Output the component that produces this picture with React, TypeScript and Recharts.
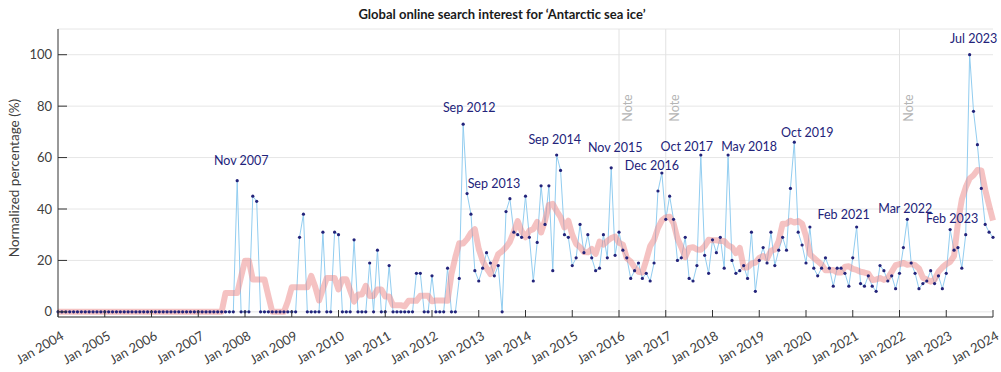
import React from 'react'
import { LineChart, Line, XAxis, YAxis, CartesianGrid, ReferenceLine, LabelList } from 'recharts'

// monthly search interest, Jan 2004 .. Jan 2024 (one row per year)
const searchInterest: number[] = [
  0, 0, 0, 0, 0, 0, 0, 0, 0, 0, 0, 0, // 2004
  0, 0, 0, 0, 0, 0, 0, 0, 0, 0, 0, 0, // 2005
  0, 0, 0, 0, 0, 0, 0, 0, 0, 0, 0, 0, // 2006
  0, 0, 0, 0, 0, 0, 0, 0, 0, 0, 51, 0, // 2007
  0, 0, 45, 43, 0, 0, 0, 0, 0, 0, 0, 0, // 2008
  0, 0, 29, 38, 0, 0, 0, 0, 31, 0, 0, 31, // 2009
  30, 0, 0, 0, 28, 0, 0, 0, 19, 0, 24, 0, // 2010
  0, 18, 0, 0, 0, 0, 0, 0, 15, 15, 0, 0, // 2011
  14, 0, 0, 0, 17, 0, 0, 13, 73, 46, 38, 16, // 2012
  12, 17, 23, 19, 14, 18, 0, 39, 44, 31, 30, 29, // 2013
  45, 29, 12, 27, 49, 34, 49, 16, 61, 55, 30, 29, // 2014
  18, 21, 34, 23, 30, 21, 16, 17, 30, 21, 56, 22, // 2015
  31, 24, 21, 13, 16, 19, 13, 15, 12, 19, 47, 54, // 2016
  36, 45, 36, 20, 21, 29, 13, 12, 18, 61, 22, 15, // 2017
  28, 23, 29, 17, 61, 20, 15, 16, 18, 13, 31, 8, // 2018
  20, 25, 19, 31, 18, 24, 29, 24, 48, 66, 31, 26, // 2019
  19, 33, 17, 14, 17, 21, 17, 10, 17, 17, 15, 10, // 2020
  21, 33, 11, 10, 14, 10, 8, 18, 16, 12, 14, 9, // 2021
  15, 25, 36, 19, 15, 9, 11, 12, 16, 11, 14, 9, // 2022
  15, 32, 24, 25, 17, 30, 100, 78, 65, 48, 34, 31, // 2023
  29, // 2024
]

const yearTicks = [
  'Jan 2004', 'Jan 2005', 'Jan 2006', 'Jan 2007', 'Jan 2008', 'Jan 2009', 'Jan 2010',
  'Jan 2011', 'Jan 2012', 'Jan 2013', 'Jan 2014', 'Jan 2015', 'Jan 2016', 'Jan 2017',
  'Jan 2018', 'Jan 2019', 'Jan 2020', 'Jan 2021', 'Jan 2022', 'Jan 2023', 'Jan 2024',
]

// annotated peaks (month index from Jan 2004)
const peakMonths = [46, 104, 116, 128, 142, 155, 165, 172, 189, 205, 218, 229, 234]
const peakNames = [
  'Nov 2007', 'Sep 2012', 'Sep 2013', 'Sep 2014', 'Nov 2015', 'Dec 2016', 'Oct 2017',
  'May 2018', 'Oct 2019', 'Feb 2021', 'Mar 2022', 'Feb 2023', 'Jul 2023',
]

// Google Trends data-collection notes
const noteMonths = [144, 156, 216]

// label placement relative to the point, [dx, dy] to text centre
const peakNudge: Record<string, [number, number]> = {
  'Nov 2007': [4, -20], 'Sep 2012': [6, -17], 'Sep 2013': [-16, -15], 'Sep 2014': [-2, -15],
  'Nov 2015': [4, -20], 'Dec 2016': [-10, -7], 'Oct 2017': [-14, -8], 'May 2018': [21, -8],
  'Oct 2019': [13, -10], 'Feb 2021': [-13, -12], 'Mar 2022': [-2, -11], 'Feb 2023': [2, -11],
  'Jul 2023': [4, -16],
}

// 7-month centred moving mean, window shrinks at the ends
const half = 3
const movingMean = searchInterest.map((_, i) => {
  const lo = Math.max(0, i - half)
  const hi = Math.min(searchInterest.length - 1, i + half)
  let s = 0
  for (let k = lo; k <= hi; k++) s += searchInterest[k]
  return s / (hi - lo + 1)
})

const rows = searchInterest.map((v, i) => ({ m: i, interest: v, trend: movingMean[i] }))

const FONT = 'Lato, "Noto Sans", sans-serif'
const AXIS = '#333333'
const TEXT = '#404040'
const NAVY = '#23237a'

const YearTick = (props: any) => {
  const { x, y, payload } = props
  const label = yearTicks[Math.round(payload.value / 12)]
  return (
    <g>
      <line x1={x} y1={y} x2={x} y2={y - 7} stroke={AXIS} strokeWidth={1} />
      <g transform={`translate(${x + 2},${y + 13}) rotate(-30)`}>
        <text x={0} y={0} dy="0.75em" textAnchor="end" fontFamily={FONT} fontSize={13} fill={TEXT}>
          {label}
        </text>
      </g>
    </g>
  )
}

const ValueTick = (props: any) => {
  const { x, y, payload } = props
  return (
    <g>
      <line x1={x} y1={y} x2={x + 9} y2={y} stroke={AXIS} strokeWidth={1} />
      <text x={x - 6} y={y} dy="0.35em" textAnchor="end" fontFamily={FONT} fontSize={13} fill={TEXT}>
        {payload.value}
      </text>
    </g>
  )
}

const PeakLabel = (props: any) => {
  const { x, y, index } = props
  const k = peakMonths.indexOf(index)
  if (k < 0) return null
  const name = peakNames[k]
  const [dx, dy] = peakNudge[name]
  return (
    <text x={x + dx} y={y + dy} dy="0.35em" textAnchor="middle" fontFamily={FONT} fontSize={12.5} fill={NAVY}>
      {name}
    </text>
  )
}

const NoteLabel = (props: any) => {
  const { x, y } = props.viewBox
  const cx = x + 9
  const cy = y + 79
  return (
    <text x={cx} y={cy} dy="0.35em" textAnchor="middle" transform={`rotate(-90 ${cx} ${cy})`}
      fontFamily={FONT} fontSize={12.5} fill="#b4b4b4">
      Note
    </text>
  )
}

export default function App() {
  return (
    <div style={{ position: 'absolute', left: 0, top: 0, width: 1001, height: 372, background: '#fff' }}>
      <LineChart width={1001} height={372} data={rows} margin={{ top: 29, right: 8, bottom: 0, left: 0 }}>
        <CartesianGrid vertical={false} stroke="#e6e6e6" />
        <XAxis
          dataKey="m"
          type="number"
          domain={[0, 240]}
          ticks={yearTicks.map((_, i) => i * 12)}
          tick={<YearTick />}
          tickLine={false}
          tickSize={0}
          tickMargin={0}
          height={55}
          axisLine={{ stroke: AXIS }}
          interval={0}
        />
        <YAxis
          type="number"
          domain={[-2, 110]}
          ticks={[0, 20, 40, 60, 80, 100]}
          tick={<ValueTick />}
          tickLine={false}
          tickSize={0}
          tickMargin={0}
          width={58}
          axisLine={{ stroke: AXIS }}
        />
        {noteMonths.map((m) => (
          <ReferenceLine key={m} x={m} stroke="#e2e2e2" strokeWidth={1} label={<NoteLabel />} />
        ))}
        <Line
          dataKey="interest"
          type="linear"
          stroke="#92cdf0"
          strokeWidth={1}
          dot={{ r: 1.6, fill: NAVY, stroke: 'none' }}
          activeDot={false}
          isAnimationActive={false}
        >
          <LabelList dataKey="interest" content={<PeakLabel />} />
        </Line>
        <Line
          dataKey="trend"
          type="linear"
          stroke="#ec8585"
          strokeOpacity={0.5}
          strokeWidth={6}
          strokeLinejoin="round"
          dot={false}
          activeDot={false}
          isAnimationActive={false}
        />
      </LineChart>
      <svg width={1001} height={372} style={{ position: 'absolute', left: 0, top: 0, pointerEvents: 'none' }}>
        <text x={502} y={14} dy="0.35em" textAnchor="middle" fontFamily={FONT} fontWeight={700} fontSize={13} fill="#1a1a1a">
          Global online search interest for ‘Antarctic sea ice’
        </text>
        <text x={14} y={178} dy="0.35em" textAnchor="middle" transform="rotate(-90 14 178)" fontFamily={FONT} fontSize={13.5} fill={TEXT}>
          Normalized percentage (%)
        </text>
      </svg>
    </div>
  )
}
